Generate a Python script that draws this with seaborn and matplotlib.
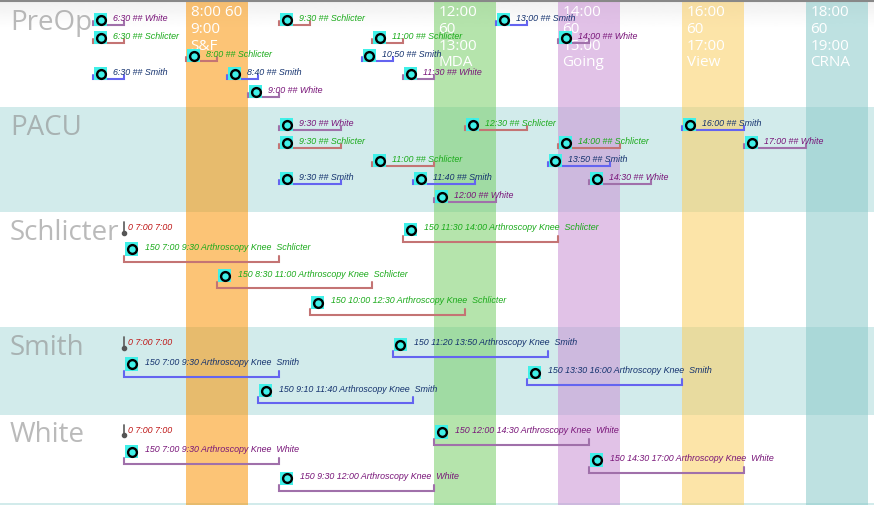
import numpy as np
import pandas as pd
import matplotlib.pyplot as plt
import seaborn as sns

# time slots shown as vertical bands
slot_starts  = ["8:00", "12:00", "14:00", "16:00", "18:00"]
slot_ends    = ["9:00", "13:00", "15:00", "17:00", "19:00"]
slot_minutes = [60, 60, 60, 60, 60]
slot_names   = ["S&F", "MDA", "Going", "View", "CRNA"]
slot_colors  = ["#fa9406", "#78ce68", "#ca90d5", "#fbce61", "#89caca"]

rows = ["PreOp", "PACU", "Schlicter", "Smith", "White"]

# PreOp entries (30 min each)
preop_times    = ["6:30", "6:30", "8:00", "6:30", "8:40", "9:00", "9:30", "11:00", "10:50", "11:30", "13:00", "14:00"]
preop_surgeons = ["White", "Schlicter", "Schlicter", "Smith", "Smith", "White", "Schlicter", "Schlicter", "Smith", "White", "Smith", "White"]
preop_lanes    = [0, 1, 2, 3, 3, 4, 0, 1, 2, 3, 0, 1]

# PACU entries (60 min each)
pacu_times    = ["9:30", "9:30", "9:30", "11:00", "11:40", "12:00", "12:30", "13:50", "14:00", "14:30", "16:00", "17:00"]
pacu_surgeons = ["White", "Schlicter", "Smith", "Schlicter", "Smith", "White", "Schlicter", "Smith", "Schlicter", "White", "Smith", "White"]
pacu_lanes    = [0, 1, 3, 2, 3, 4, 0, 2, 1, 3, 0, 1]

# cases in each surgeon row
case_surgeons  = ["Schlicter", "Schlicter", "Schlicter", "Schlicter", "Smith", "Smith", "Smith", "Smith", "White", "White", "White", "White"]
case_starts    = ["7:00", "8:30", "10:00", "11:30", "7:00", "9:10", "11:20", "13:30", "7:00", "9:30", "12:00", "14:30"]
case_ends      = ["9:30", "11:00", "12:30", "14:00", "9:30", "11:40", "13:50", "16:00", "9:30", "12:00", "14:30", "17:00"]
case_procedure = ["Arthroscopy Knee"] * 12
case_lanes     = [1, 3, 4, 0, 1, 3, 0, 2, 1, 3, 0, 2]
day_start = "7:00"

text_colors    = {"Schlicter": "#1aaa1a", "Smith": "#14326e", "White": "#781478"}
bracket_colors = {"Schlicter": "#c47474", "Smith": "#6464f0", "White": "#a070aa"}

# layout (pixels)
W, H = 874, 505
PX_PER_MIN = 62 / 60
T0 = 5 * 60
row_bounds = [2, 107, 212, 327, 414.5, 503]
row_fill = ["white", "#d2ebeb", "white", "#d2ebeb", "white"]
surgeon_lane_y = [15, 34.5, 43, 61.3, 88]


def to_min(t):
    h, m = t.split(":")
    return int(h) * 60 + int(m)


def dx(px):
    return px / PX_PER_MIN


sns.set_theme(style="white")
plt.rcParams["font.family"] = ["Liberation Sans", "DejaVu Sans"]

fig = plt.figure(figsize=(W / 100, H / 100), dpi=100)
ax = fig.add_axes([0, 0, 1, 1])
x_max = T0 + dx(W)

# background
grad = np.linspace(0.94, 1.0, 30)[:, None]
ax.imshow(grad, cmap="gray", vmin=0, vmax=1, extent=[T0, x_max, 28, 0], aspect="auto", zorder=0)
ax.axhline(1, color="#888888", lw=1.5, zorder=6)
for i, name in enumerate(rows):
    top, bottom = row_bounds[i], row_bounds[i + 1]
    if row_fill[i] != "white":
        ax.axhspan(top, bottom, color=row_fill[i], lw=0, zorder=0.5)
    ax.text(T0 + dx(10), top + 28, name, fontsize=20, family="Open Sans",
            color="#8c8c8c", alpha=0.6, va="baseline", ha="left", zorder=2)
ax.axhspan(503, H, color="#d2ebeb", lw=0, zorder=0.5)

# time slot bands
for s, e, m, n, c in zip(slot_starts, slot_ends, slot_minutes, slot_names, slot_colors):
    ax.axvspan(to_min(s), to_min(e), ymin=0, ymax=1 - 2 / H, color=c, alpha=0.55, lw=0, zorder=1)
    if len(s) < 5:
        lines = [f"{s} {m}", e, n]
    else:
        lines = [s, str(m), e, n]
    for k, line in enumerate(lines):
        ax.text(to_min(s) + dx(4.5), 16.2 + 16.7 * k, line, fontsize=11, family="Open Sans",
                color="white", va="baseline", ha="left", zorder=2)

# build one table for all small entries
records = []
for t, s, lane in zip(preop_times, preop_surgeons, preop_lanes):
    records.append(dict(kind="slot", surgeon=s, start=to_min(t), end=to_min(t) + 30,
                        y=18 + 18 * lane, label=f"{t} ## {s}"))
for t, s, lane in zip(pacu_times, pacu_surgeons, pacu_lanes):
    records.append(dict(kind="slot", surgeon=s, start=to_min(t), end=to_min(t) + 60,
                        y=123 + 18 * lane, label=f"{t} ## {s}"))
for s, a, b, p, lane in zip(case_surgeons, case_starts, case_ends, case_procedure, case_lanes):
    top = row_bounds[rows.index(s)]
    dur = to_min(b) - to_min(a)
    records.append(dict(kind="case", surgeon=s, start=to_min(a), end=to_min(b),
                        y=top + surgeon_lane_y[lane], label=f"{dur} {a} {b} {p}  {s}"))
df = pd.DataFrame(records)

df["mx"] = df["start"] + dx(7.5)
df["my"] = np.where(df["kind"] == "slot", df["y"] + 1.5, df["y"] + 2.5)
df["by"] = np.where(df["kind"] == "slot", df["y"] + 6.7, df["y"] + 15)
df["tick"] = np.where(df["kind"] == "slot", 3.8, 6)
df["tx"] = df["start"] + np.where(df["kind"] == "slot", dx(20), dx(21))

for _, r in df.iterrows():
    c = bracket_colors[r["surgeon"]]
    ax.plot([r["start"], r["start"], r["end"], r["end"]],
            [r["by"] - r["tick"], r["by"], r["by"], r["by"] - r["tick"]],
            color=c, lw=1.5, solid_joinstyle="miter", zorder=3)
    ax.text(r["tx"], r["y"] + 3.3, r["label"], fontsize=6.4, style="italic",
            color=text_colors[r["surgeon"]], va="baseline", ha="left", zorder=5)

sns.scatterplot(data=df, x="mx", y="my", marker="s", s=88, color="#40f0e8",
                edgecolor="none", linewidth=0, ax=ax, zorder=4, legend=False)
sns.scatterplot(data=df, x="mx", y="my", marker="o", s=40, color="#40f0e8",
                edgecolor="black", linewidth=1.7, ax=ax, zorder=4.5, legend=False)

# zero length start markers in surgeon rows
for s in ["Schlicter", "Smith", "White"]:
    top = row_bounds[rows.index(s)]
    y0 = top + surgeon_lane_y[0]
    x0 = to_min(day_start)
    ax.plot([x0, x0], [y0 - 5, y0 + 5.5], color="#666666", lw=1.3, zorder=3)
    ax.plot([x0], [y0 + 5.5], "o", color="#555555", ms=3, zorder=3)
    ax.text(x0 + dx(4.3), y0 + 3.3, f"0 {day_start} {day_start}", fontsize=6.4,
            style="italic", color="#be1414", va="baseline", ha="left", zorder=5)

ax.set_xlim(T0, x_max)
ax.set_ylim(H, 0)
ax.axis("off")

fig.savefig("out.png", dpi=100)
